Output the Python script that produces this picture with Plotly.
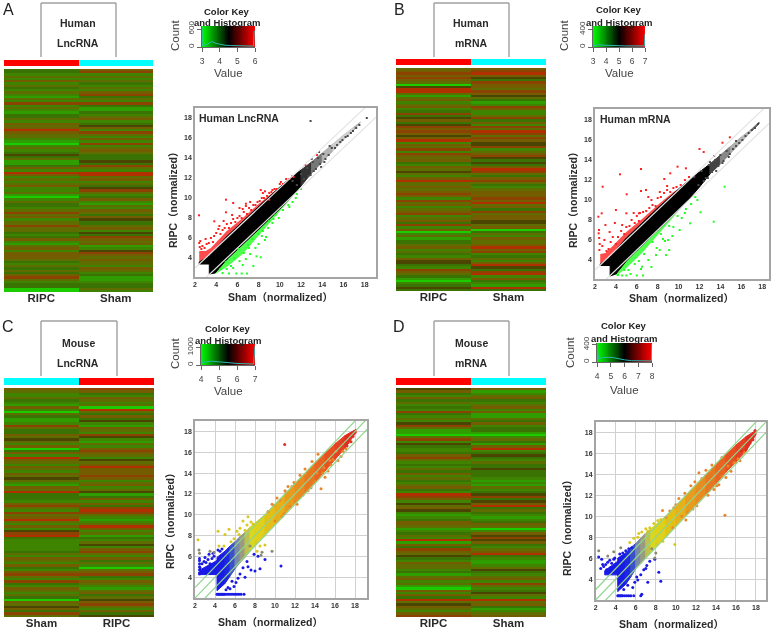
import numpy as np
import plotly.graph_objects as go

W, H = 773, 635
SANS = "Liberation Sans, Arial, Noto Sans CJK SC"
TXT = "#2a2a2a"

# ---------- heat map rows (level 0 = bright green ... 7 = red, 8 = near black)
LEVEL_COLOURS = ["#1ccc00", "#2f9c00", "#3f8400", "#3a7204", "#5e6c00",
                 "#745c00", "#8c4200", "#b03000", "#4a4500"]
A_RIPC = [3,3,2,4,2,5,2,4,3,2, 4,2,1,4,2,6,2,4,2,1, 3,3,4,2,5,4,5,7,5,4, 4,2,1,0,2,4,2,3,8,3,
          4,1,1,3,5,2,7,5,2,4, 2,4,5,2,2,4,1,0,2,4, 3,3,2,4,6,4,5,2,4,4, 6,4,4,3,2,3,5,2,1,4,
          5,2,5,5,5,4,3,2,4,3, 4,3,5,6,4,2,3,3,0,0]
A_SHAM = [5,6,2,4,2,4,3,2,4,2, 5,6,3,4,2,6,3,1,1,3, 2,4,5,2,3,8,5,2,6,4, 2,5,2,6,2,4,5,4,3,3,
          3,8,3,6,4,2,7,7,4,5, 2,4,3,8,6,4,2,3,5,2, 1,4,2,5,4,3,5,8,3,3, 4,5,2,8,3,6,5,4,5,1,
          2,8,6,5,4,5,4,4,2,5, 4,2,3,1,1,2,3,3,4,2]
B_RIPC = [4,5,6,5,6,5,4,0,8,7, 7,4,1,4,5,2,4,5,2,3, 6,3,8,5,3,8,6,5,6,5, 8,5,7,2,5,4,6,2,6,5,
          4,5,3,2,5,4,8,4,2,5, 7,4,4,5,4,5,6,5,2,6, 4,5,2,4,5,6,2,4,5,3, 6,2,5,0,2,4,1,3,3,4,
          5,2,4,3,2,5,8,8,3,2, 6,5,4,3,1,0,2,3,8,3]
B_SHAM = [5,6,7,5,8,3,6,5,5,4, 6,5,8,4,3,1,2,6,5,2, 2,4,6,3,5,2,6,4,7,6, 4,6,5,8,8,6,2,4,5,6,
          8,3,8,3,5,7,6,4,3,5, 6,4,3,2,4,5,5,5,6,5, 7,4,5,3,6,4,5,5,8,8, 4,5,0,3,4,2,5,4,4,5,
          7,5,6,2,3,4,2,5,7,8, 3,6,7,2,5,3,2,1,7,3]
C_SHAM = [5,4,2,2,4,3,2,1,5,2, 0,4,3,1,1,2,6,4,3,3, 5,4,8,4,2,5,0,3,5,2, 7,5,4,2,5,4,2,5,4,8,
          4,2,1,5,4,7,3,3,3,2, 5,6,4,2,6,4,5,7,4,2, 5,2,8,6,7,3,2,2,2,2, 2,3,4,2,5,4,2,5,3,2,
          5,6,4,2,6,3,2,5,4,2, 4,3,0,5,4,8,5,3,6,4]
C_RIPC = [6,5,3,2,5,4,2,4,0,7, 4,3,5,3,8,2,1,5,4,2, 6,8,2,1,4,2,5,6,5,4, 2,8,4,5,7,5,5,5,6,5,
          2,4,5,2,4,8,1,3,5,2, 5,3,6,7,6,4,2,1,2,4, 7,5,2,4,1,3,2,4,8,2, 5,6,4,2,5,3,4,2,0,4,
          5,6,3,2,5,4,2,1,4,5, 3,4,8,5,6,4,2,5,3,8]
D_RIPC = [8,5,3,2,5,3,4,2,3,2, 6,3,2,4,2,8,6,4,1,1, 0,4,6,2,8,3,2,2,3,5, 6,4,2,3,2,4,3,5,2,4,
          3,2,4,5,3,2,7,6,5,2, 8,4,5,8,2,1,2,3,5,5, 4,1,2,3,4,2,7,1,5,3, 6,5,4,8,3,2,5,4,4,2,
          3,1,4,5,2,4,1,0,5,2, 5,3,7,4,8,5,4,2,5,6]
D_SHAM = [5,1,2,4,5,3,2,4,5,2, 5,1,1,4,3,5,2,3,3,1, 0,2,4,3,1,5,7,2,3,8, 3,2,4,3,3,8,3,3,3,2,
          1,2,1,4,2,3,8,6,3,8, 5,7,3,4,3,2,1,2,3,5, 4,0,2,5,8,6,8,5,3,2, 4,5,7,3,2,1,1,2,4,8,
          3,2,4,5,2,6,4,2,3,8, 4,2,7,4,5,3,1,2,4,5]

# ---------- colour key histograms
A_KEY_X = [3,3.02,3.2,3.4,3.55,3.8,4,4.3,4.6,5,5.4,5.8,5.92,5.95,6]
A_KEY_Y = [650,60,60,130,180,120,90,60,50,40,30,30,30,520,520]
B_KEY_X = [3,3.05,3.2,3.5,4,4.5,5,5.5,6,6.5,6.95,7]
B_KEY_Y = [400,25,45,50,40,30,25,25,25,25,25,300]
C_KEY_X = [4,4.05,4.3,4.6,5,5.5,6,6.5,6.92,7]
C_KEY_Y = [1100,130,190,220,180,120,90,70,60,1100]
D_KEY_X = [4,4.1,4.4,4.8,5.2,5.6,6,6.5,7,7.5,7.95,8]
D_KEY_Y = [420,70,100,110,100,70,50,30,25,25,25,420]

# ---------- scatter: dense central cloud (edges) and its shades
A_BAND_X = [2.4,3.35,3.35,3.9,5,6,8,10,11,12,13,14,15,16,17,17.6]
A_BAND_LOW = [3.4,3.4,2.4,2.5,3.85,4.85,6.85,8.9,10.0,11.2,12.5,13.6,14.7,15.8,16.8,17.5]
A_BAND_UP = [3.6,4.2,4.2,4.9,6.15,7.15,9.15,11.1,12.0,12.8,13.6,14.5,15.4,16.3,17.1,17.6]
A_BAND_SHADE = ["#000000"]*9 + ["#333333","#777777","#b4b4b4","#cccccc","#cfcfcf","#b0b0b0"]

B_BAND_X = [2.5,3.45,3.45,4,5,6,8,10,11,12,13,14,15,16,17,17.7]
B_BAND_LOW = [3.45,3.45,2.4,2.6,3.9,4.95,6.95,9.0,10.1,11.3,12.6,13.6,14.7,15.8,16.9,17.6]
B_BAND_UP = [3.6,4.3,4.3,5.0,6.2,7.2,9.2,11.1,12.0,12.8,13.6,14.5,15.4,16.3,17.1,17.8]
B_BAND_SHADE = ["#000000"]*10 + ["#444444","#888888","#b0b0b0","#b8b8b8","#707070"]

C_BAND_X = [2.5,4.2,4.2,5,5.5,6,6.5,7,7.5,8,9,10,11,12,13,14,15,16,17,18.1]
C_BAND_LOW = [4.25,4.25,2.7,3.4,4.1,4.8,5.4,5.9,6.5,7.1,8.1,9.1,10.1,11.1,12.1,13.1,14.2,15.3,16.4,17.9]
C_BAND_UP = [4.7,5.6,5.9,6.5,7.0,7.4,7.9,8.3,8.8,9.2,10.0,11.0,12.0,13.0,14.0,15.0,15.9,16.8,17.6,18.2]
C_BAND_SHADE = ["#1a1ae6","#1a1ae6","#1a1ae6","#1f28e0","#3c50cc","#7a88a8","#9a9a80","#c0c050",
                "#d8d820","#e0d018","#e4c014","#e8b018","#e89c1c","#e88c20","#e87820","#e86420",
                "#e85020","#e44024","#e02c20"]

D_BAND_X = [2.9,4.2,4.2,5,5.5,6,6.5,7,7.5,8,9,10,11,12,13,14,15,16,17,18.0]
D_BAND_LOW = [4.4,4.4,2.8,3.5,4.2,5.0,5.5,6.0,6.6,7.1,8.1,9.1,10.1,11.1,12.1,13.1,14.2,15.2,16.2,17.8]
D_BAND_UP = [4.8,5.7,6.0,6.5,7.0,7.4,7.9,8.4,8.8,9.2,10.0,11.0,12.0,13.0,14.0,15.0,15.9,16.8,17.6,18.2]
D_BAND_SHADE = ["#1a1ae6","#1a1ae6","#1a1ae6","#1f28e0","#3c50cc","#7a88a8","#9a9a80","#c0c050",
                "#d8d820","#e0d018","#e4c014","#e8b018","#e89c1c","#e88c20","#e87820","#e86420",
                "#e85020","#e44024","#e02c20"]

# speckled fringes just outside the fold-change lines (A, B)
A_UPFRINGE_X = [2.4,3.0,3.5,5,6.5,8,9.5,10.5]
A_UPFRINGE_Y = [4.7,4.7,5.0,6.7,8.0,9.4,10.7,11.3]
A_LOFRINGE_X = [3.9,5,6.5,8,9.5,11]
A_LOFRINGE_Y = [2.4,3.1,4.4,6.2,8.1,9.9]
B_UPFRINGE_X = [2.5,3.0,3.6,5,6.5,8,9.5,10.8]
B_UPFRINGE_Y = [4.6,4.7,5.3,6.8,8.1,9.5,10.8,11.6]
B_LOFRINGE_X = [4,5,6.5,8,9.5,11]
B_LOFRINGE_Y = [2.4,3.2,4.7,6.5,8.3,10.0]

# ---------- scatter: individually read points
A_RED_X = [2.38,4.92,5.6,6.8,6.2,3.82,4.92,8.2,8.6,9.0,12.4,13.5,11.3,2.4,2.45,2.5,2.6,2.7,2.9,3.1,3.3,3.0,3.5,3.7,4.0,3.8,4.2,4.4,
           4.6,4.3,4.8,5.0,5.2,4.7,5.4,5.6,5.8,6.0,5.5,6.2,6.4,6.6,6.9,7.1,7.3,7.5,6.8,7.7,7.9,8.1,8.3,8.5,8.8,9.0,9.2,9.5,9.7,10.0,
           10.3,10.6,10.9,11.2,6.5,7.2,8.4,9.3,10.1]
A_RED_Y = [8.27,9.83,9.5,9.43,9.0,7.67,8.57,10.8,10.67,9.83,13.3,14.3,12.1,5.5,5.1,5.7,4.9,5.2,5.0,5.4,5.5,5.9,6.0,5.6,6.5,6.2,6.9,6.4,
           6.8,7.2,7.0,7.4,7.0,7.7,7.5,7.9,7.6,8.0,8.3,8.2,8.0,8.6,8.4,9.0,8.8,9.3,9.2,9.3,9.6,9.7,10.0,10.0,10.2,10.5,10.6,10.9,10.9,11.4,
           11.4,11.9,11.9,12.2,8.9,9.6,10.5,10.8,11.6]
A_GREEN_X = [7.8,8.2,6.8,7.2,5.0,5.4,5.7,6.2,6.6,6.1,7.0,7.4,7.7,8.0,8.4,8.7,9.0,9.3,9.6,9.9,10.3,10.8,11.2,11.6,12.0,4.6,5.2,5.9,6.4,6.9,7.5,8.3,8.9,9.4,
             4.4,4.9,5.6,6.5,7.1,10.9,11.5,8.6,8.0]
A_GREEN_Y = [4.17,4.07,3.9,4.4,2.9,3.2,4.0,3.7,4.5,4.9,5.3,5.9,5.0,6.4,6.7,6.1,7.7,7.5,8.3,8.0,8.8,9.3,9.6,10.4,10.9,2.5,2.45,2.45,2.45,2.45,3.2,6.2,7.0,7.9,
             2.9,3.6,3.0,3.3,5.0,9.1,10.0,5.8,5.4]
A_GREY_X = [11.2,11.6,12.0,12.3,12.6,12.9,13.1,13.4,13.6,13.8,14.1,14.3,14.6,14.9,15.2,15.4,15.7,15.9,16.2,16.4,16.7,16.9,17.2,17.5,12.7,13.2,13.7,14.2,13.0,14.7,18.2,12.9,13.9]
A_GREY_Y = [11.7,11.3,12.4,11.9,13.0,12.3,13.6,12.9,14.0,13.4,14.4,13.9,14.3,15.0,15.0,15.3,15.6,15.8,16.1,16.2,16.5,16.7,17.0,17.3,12.2,12.7,14.6,13.6,13.9,15.2,18.0,17.7,13.1]
B_GREY_X = [11.5,11.9,12.2,12.6,12.9,13.2,13.5,13.8,14.0,14.3,14.6,14.9,15.2,15.5,15.8,16.1,16.4,16.7,17.0,17.3,17.6,12.4,13.0,13.6,14.2,14.8,15.5,12.8,13.4]
B_GREY_Y = [12.3,11.5,12.9,12.2,13.5,12.8,14.0,13.4,14.5,13.9,14.9,14.6,15.1,15.4,15.7,16.0,16.4,16.7,17.0,17.2,17.6,11.9,13.8,12.9,13.7,14.3,15.9,12.2,14.4]

B_RED_X = [2.32,2.64,2.73,4.39,4.0,5.03,6.4,6.4,6.88,8.63,9.2,9.9,10.7,12.0,12.4,14.2,14.9,2.35,2.4,2.45,2.42,2.38,2.7,3.1,2.9,3.3,3.5,3.7,3.4,4.0,4.2,4.5,4.8,4.6,5.0,5.3,5.5,
           5.8,6.0,6.2,5.7,6.3,6.6,6.9,7.2,7.5,7.8,7.1,7.4,8.0,8.3,8.6,8.9,9.2,9.5,9.8,10.2,10.6,11.0,5.0,6.2,3.0,3.9,8.2,8.9]
B_RED_Y = [8.33,8.67,11.33,12.57,9.0,10.57,13.1,10.9,11.0,12.1,12.67,13.33,13.17,15.1,14.8,15.73,16.27,6.67,6.2,5.6,5.0,7.0,5.4,4.9,6.0,5.1,5.8,6.3,6.8,5.6,6.3,6.9,6.6,7.5,7.3,7.4,8.0,
           7.7,8.4,7.9,8.7,8.7,8.8,8.9,9.2,9.5,9.4,10.3,10.0,10.2,10.3,10.7,11.0,10.8,11.2,11.3,11.5,12.0,12.3,8.67,8.67,7.5,7.7,10.8,11.4]
B_GREEN_X = [14.4,13.36,12.1,11.8,9.0,8.8,7.84,6.5,10.1,11.1,4.6,5.0,5.4,5.8,6.2,6.0,6.7,7.1,7.5,7.9,8.3,8.7,9.1,9.5,9.9,10.3,10.7,11.2,11.6,5.2,6.6,7.4,8.2,9.4,4.2,4.8,6.4,9.1,8.5,10.6]
B_GREEN_Y = [11.33,7.83,8.77,10.0,6.0,4.5,4.5,3.33,7.0,7.67,2.45,2.45,2.6,3.6,3.9,2.45,4.6,4.0,5.8,5.2,6.6,5.9,7.4,7.3,8.4,8.2,9.1,9.6,10.3,3.0,2.45,3.3,5.0,6.4,2.5,3.0,3.1,5.0,6.1,8.7]

# shades for C/D individual points are grouped: blue, grey, yellow, orange, red
C_BLUE_X = [10.6,8.0,8.5,9.0,8.3,7.9,2.45,2.45,2.45,2.45,2.45,2.45,2.45,2.5,2.7,2.9,3.1,3.3,3.0,3.5,3.7,3.9,3.4,3.8,4.3,4.5,4.7,4.2,4.3,4.4,4.5,4.6,4.7,4.8,4.9,5.0,5.2,5.4,5.6,5.8,6.0,6.2,6.4,6.6,6.9,5.3,5.7,6.1,6.5,7.0,7.3,7.6,5.1,5.5,5.9,6.3,6.8,7.2]
C_BLUE_Y = [5.07,4.6,4.8,5.7,6.0,6.2,4.4,4.7,5.0,5.3,5.6,5.8,4.3,4.9,5.3,5.5,5.4,5.7,5.9,5.3,5.8,6.0,6.2,6.3,6.6,6.5,6.7,2.35,2.35,2.35,2.35,2.35,2.35,2.35,2.35,2.35,2.35,2.35,2.35,2.35,2.35,2.35,2.35,2.35,2.35,3.0,3.6,3.5,4.3,4.0,5.0,4.7,2.8,2.9,3.1,3.9,4.9,5.5]
C_GREY_X = [2.4,2.45,9.7,3.5,3.9,8.7,8.6,7.5]
C_GREY_Y = [6.6,6.3,6.5,6.5,6.4,6.4,6.1,7.0]
C_YELLOW_X = [5.4,4.3,2.3,6.8,5.0,4.4,4.9,5.6,6.2,6.5,7.2,7.6,8.2,8.5,8.9,9.0,7.3,5.9,6.4,7.0,7.8,8.1]
C_YELLOW_Y = [8.6,8.4,7.6,9.4,8.1,7.0,7.0,7.4,8.4,8.7,9.0,9.3,6.5,7.0,8.0,7.1,9.8,7.7,8.1,8.5,9.1,7.3]
C_ORANGE_X = [14.3,14.0,14.6,15.3,16.1,16.8,15.0,15.6,16.3,16.6,17.1,14.8,15.5,13.7,13.0,12.5,11.9,11.3,11.0,10.2,9.7,10.7,11.5,12.2,13.3,13.6,12.8,10.0,9.3,9.9,10.5,11.1,11.7,12.4,13.1,14.2,14.9,15.8,10.9,12.0,13.9]
C_ORANGE_Y = [15.8,13.2,12.5,14.2,16.1,16.1,13.6,14.8,15.2,15.6,16.3,14.0,15.2,15.1,14.4,13.8,13.1,12.7,12.3,11.6,11.0,9.8,10.8,11.0,12.3,12.6,11.9,9.4,10.3,10.9,11.4,12.1,12.7,13.2,13.9,14.0,14.5,15.3,10.1,11.3,13.1]
C_RED_X = [10.97,17.6,17.3,17.8,18.0,16.9,17.2,17.5]
C_RED_Y = [16.74,17.0,16.9,17.5,17.9,17.0,16.6,17.7]

D_BLUE_X = [8.3,8.5,7.2,6.6,7.9,2.3,2.6,2.8,3.0,3.2,3.4,3.6,3.8,2.5,2.7,3.1,3.5,3.9,4.2,4.3,4.4,4.5,4.6,4.7,4.9,5.1,5.3,5.5,5.8,6.5,4.4,4.7,5.0,5.3,5.6,5.9,6.2,6.5,6.8,7.1,4.8,5.2,5.7,6.1,7.0,7.4]
D_BLUE_Y = [4.65,3.8,3.7,2.55,5.9,6.1,5.9,5.2,5.4,5.6,5.8,5.5,5.9,5.0,5.4,4.9,5.1,6.0,2.4,2.4,2.4,2.4,2.4,2.4,2.4,2.4,2.4,2.4,2.4,2.4,6.4,6.5,6.7,6.9,7.0,3.7,3.9,4.4,4.9,5.3,3.0,3.4,3.2,4.2,5.0,5.7]
D_GREY_X = [2.3,3.2,3.8,4.5,7.9,8.0,7.6]
D_GREY_Y = [6.7,6.2,6.6,7.0,6.0,6.5,6.9]
D_YELLOW_X = [6.3,9.9,5.4,5.8,6.6,7.0,7.4,7.8,8.2,8.7,9.1,8.1,6.2,7.2,8.5,9.4]
D_YELLOW_Y = [8.35,7.3,7.5,7.9,8.5,8.8,8.9,9.3,9.6,7.6,8.2,7.4,8.0,8.6,9.7,8.7]
D_ORANGE_X = [14.9,8.67,12.3,11.0,12.7,13.8,16.2,16.8,14.3,15.0,15.5,15.8,16.4,10.3,10.9,11.5,11.9,13.0,13.6,14.6,9.4,10.0,9.7,12.1,13.2,14.1,9.0,9.8,10.6,11.2,12.6,13.4,15.2,16.0,11.7,14.6]
D_ORANGE_Y = [10.1,10.55,14.16,9.65,12.4,12.55,15.5,16.1,13.0,13.7,14.3,15.1,15.3,11.7,12.2,12.9,13.3,14.4,14.9,15.6,10.5,11.1,8.9,11.0,12.0,12.9,9.9,10.8,10.0,10.4,13.6,14.3,14.8,15.1,10.7,13.8]
D_RED_X = [17.0,17.4,17.7,16.6,17.2,17.9]
D_RED_Y = [16.4,17.0,17.3,16.2,16.8,18.2]

COLUMN_COLOURS = {"RIPC": "#ff0000", "Sham": "#00ffff"}
KEY_SCALE = [[0, "#00ff00"], [0.5, "#000000"], [1, "#ff0000"]]

PANELS = [
 dict(letter="A", lx=8, ly=9.5, box=(41,116,3,57), bar=(4,153,60,66), hm=(4,153,69,292), names=("RIPC","Sham"), cols=(A_RIPC,A_SHAM),
      t1="Human", t2="LncRNA", tx=78, ty1=23, ty2=43,
      key=(202,255,26,47), kt=(3,6), kticks=[3,4,5,6], kymax=700, kyticks=[0,600], khx=A_KEY_X, khy=A_KEY_Y, ktitlex=227, ktitley=(11,22), countx=175, county=36, valuey=73,
      sc=(195,376,108,277), xr=(2,19.07), yr=(2.1,19), title="Human LncRNA", tix=197, tiy=118, xt=(280,297), yt=(173,197),
      band=(A_BAND_X,A_BAND_LOW,A_BAND_UP,A_BAND_SHADE), up=(A_UPFRINGE_X,A_UPFRINGE_Y), lo=(A_LOFRINGE_X,A_LOFRINGE_Y),
      pts=[(A_GREY_X,A_GREY_Y,"#4a4a4a"),(A_RED_X,A_RED_Y,"#ff2020"),(A_GREEN_X,A_GREEN_Y,"#20ff20")], colored=False),
 dict(letter="B", lx=399, ly=9.5, box=(434,509,3,57), bar=(396,546,59,65), hm=(396,546,68,291), names=("RIPC","Sham"), cols=(B_RIPC,B_SHAM),
      t1="Human", t2="mRNA", tx=471, ty1=23, ty2=43,
      key=(593,645,26,47), kt=(3,7), kticks=[3,4,5,6,7], kymax=480, kyticks=[0,400], khx=B_KEY_X, khy=B_KEY_Y, ktitlex=619, ktitley=(10,22), countx=564, county=36, valuey=73,
      sc=(595,769,109,279), xr=(2,18.65), yr=(2.1,19.1), title="Human mRNA", tix=598, tiy=119, xt=(681,298), yt=(573,197),
      band=(B_BAND_X,B_BAND_LOW,B_BAND_UP,B_BAND_SHADE), up=(B_UPFRINGE_X,B_UPFRINGE_Y), lo=(B_LOFRINGE_X,B_LOFRINGE_Y),
      pts=[(B_GREY_X,B_GREY_Y,"#4a4a4a"),(B_RED_X,B_RED_Y,"#ff2020"),(B_GREEN_X,B_GREEN_Y,"#20ff20")], colored=False),
 dict(letter="C", lx=8, ly=327, box=(41,117,321,376), bar=(4,154,378,385), hm=(4,154,388,617), names=("Sham","RIPC"), cols=(C_SHAM,C_RIPC),
      t1="Mouse", t2="LncRNA", tx=78, ty1=343, ty2=363,
      key=(201,255,344,365), kt=(4,7), kticks=[4,5,6,7], kymax=1200, kyticks=[0,1000], khx=C_KEY_X, khy=C_KEY_Y, ktitlex=228, ktitley=(328,340), countx=175, county=354, valuey=391,
      sc=(195,367,421,598), xr=(2,19.2), yr=(2,19), title=None, xt=(270,622), yt=(170,518),
      band=(C_BAND_X,C_BAND_LOW,C_BAND_UP,C_BAND_SHADE), up=None, lo=None,
      pts=[(C_BLUE_X,C_BLUE_Y,"#1a1ae6"),(C_GREY_X,C_GREY_Y,"#8a8a70"),(C_YELLOW_X,C_YELLOW_Y,"#d8c820"),(C_ORANGE_X,C_ORANGE_Y,"#ec8428"),(C_RED_X,C_RED_Y,"#e03020")], colored=True),
 dict(letter="D", lx=399, ly=327, box=(434,509,321,376), bar=(396,546,378,385), hm=(396,546,388,617), names=("RIPC","Sham"), cols=(D_RIPC,D_SHAM),
      t1="Mouse", t2="mRNA", tx=471, ty1=343, ty2=363,
      key=(597,652,343,362), kt=(4,8), kticks=[4,5,6,7,8], kymax=440, kyticks=[0,400], khx=D_KEY_X, khy=D_KEY_Y, ktitlex=624, ktitley=(325,338), countx=570, county=353, valuey=390,
      sc=(595.7,766,422,600), xr=(2,19), yr=(2,19), title=None, xt=(671,624), yt=(567,525),
      band=(D_BAND_X,D_BAND_LOW,D_BAND_UP,D_BAND_SHADE), up=None, lo=None,
      pts=[(D_BLUE_X,D_BLUE_Y,"#1a1ae6"),(D_GREY_X,D_GREY_Y,"#8a8a70"),(D_YELLOW_X,D_YELLOW_Y,"#d8c820"),(D_ORANGE_X,D_ORANGE_Y,"#ec8428"),(D_RED_X,D_RED_Y,"#e03020")], colored=True),
]

fig = go.Figure()
layout = dict(width=W, height=H, margin=dict(l=0, r=0, t=0, b=0, autoexpand=False), autosize=False, showlegend=False,
              paper_bgcolor="white", plot_bgcolor="white", font=dict(family=SANS, color=TXT))
annots, shapes = [], []


def px(x):
    return x / W


def py(y):
    return 1 - y / H


def note(text, x, y, size, bold=True, color=TXT, angle=0, xanchor="center"):
    annots.append(dict(text=text, x=px(x), y=py(y), xref="paper", yref="paper", showarrow=False,
                       xanchor=xanchor, yanchor="middle", textangle=angle,
                       font=dict(family=SANS, size=size, color=color, weight=700 if bold else 400)))


axis_no = 0


def new_axes(box):
    global axis_no
    axis_no += 1
    n = "" if axis_no == 1 else str(axis_no)
    x0, x1, y0, y1 = box
    return (f"x{n}", f"y{n}", f"xaxis{n}", f"yaxis{n}",
            [px(x0), px(x1)], [py(y1), py(y0)])


for p in PANELS:
    # --- panel letter, dendrogram box and its caption
    note(p["letter"], p["lx"], p["ly"], 16, bold=False, color="#222222")
    x0, x1, y0, y1 = p["box"]
    for seg in ((x0, y1, x0, y0), (x0, y0, x1, y0), (x1, y0, x1, y1)):
        shapes.append(dict(type="line", xref="paper", yref="paper", x0=px(seg[0]), y0=py(seg[1]),
                           x1=px(seg[2]), y1=py(seg[3]), line=dict(color="#a0a0a0", width=1.4)))
    note(p["t1"], p["tx"], p["ty1"], 10.5)
    note(p["t2"], p["tx"], p["ty2"], 10.5)

    # --- heat map with its column colour bar
    xa, ya, xk, yk, xd, yd = new_axes(p["hm"])
    left, right = p["cols"]
    rows = list(range(len(left)))
    z = [[left[i], right[i]] for i in rows]
    stops = []
    n = len(LEVEL_COLOURS)
    for i, c in enumerate(LEVEL_COLOURS):
        stops += [[i / n, c], [(i + 1) / n, c]]
    fig.add_trace(go.Heatmap(z=z, x=list(p["names"]), y=rows, xaxis=xa, yaxis=ya, colorscale=stops,
                             zmin=-0.5, zmax=n - 0.5, showscale=False, hoverinfo="skip"))
    layout[xk] = dict(domain=xd, anchor=ya, ticks="", showline=False, showgrid=False, zeroline=False, ticklabelstandoff=-3,
                      tickfont=dict(family=SANS, size=11.5, color=TXT, weight=700))
    layout[yk] = dict(domain=yd, anchor=xa, autorange="reversed", visible=False)

    bxa, bya, bxk, byk, bxd, byd = new_axes(p["bar"])
    fig.add_trace(go.Heatmap(z=[[0, 1]], x=list(p["names"]), y=[0], xaxis=bxa, yaxis=bya,
                             colorscale=[[0, COLUMN_COLOURS[p["names"][0]]], [0.5, COLUMN_COLOURS[p["names"][0]]],
                                         [0.5, COLUMN_COLOURS[p["names"][1]]], [1, COLUMN_COLOURS[p["names"][1]]]],
                             zmin=0, zmax=1, showscale=False, hoverinfo="skip"))
    layout[bxk] = dict(domain=bxd, anchor=bya, visible=False)
    layout[byk] = dict(domain=byd, anchor=bxa, visible=False)

    # --- colour key with histogram
    kxa, kya, kxk, kyk, kxd, kyd = new_axes(p["key"])
    t0, t1 = p["kt"]
    steps = [t0 + (t1 - t0) * i / 60 for i in range(61)]
    fig.add_trace(go.Heatmap(z=[steps, steps], x=steps, y=[0, p["kymax"]], xaxis=kxa, yaxis=kya,
                             colorscale=KEY_SCALE, showscale=False, hoverinfo="skip"))
    fig.add_trace(go.Scatter(x=p["khx"], y=p["khy"], xaxis=kxa, yaxis=kya, mode="lines",
                             line=dict(color="#2ab8b0", width=1), hoverinfo="skip"))
    layout[kxk] = dict(domain=kxd, anchor=kya, range=list(p["kt"]), tickvals=p["kticks"], ticks="outside", ticklen=4,
                       tickcolor="#666666", showline=True, linecolor="#666666", linewidth=1, showgrid=False, zeroline=False,
                       tickfont=dict(family=SANS, size=8.5, color="#444444"), ticklabelstandoff=2)
    layout[kyk] = dict(domain=kyd, anchor=kxa, range=[0, p["kymax"]], tickvals=p["kyticks"], ticks="outside", ticklen=4,
                       tickcolor="#666666", showline=True, linecolor="#666666", linewidth=1, showgrid=False, zeroline=False,
                       tickangle=-90, tickfont=dict(family=SANS, size=8, color="#444444"))
    note("Color Key", p["ktitlex"], p["ktitley"][0], 9.5, color="#222222")
    note("and Histogram", p["ktitlex"], p["ktitley"][1], 9.5, color="#222222")
    note("Count", p["countx"], p["county"], 11.5, bold=False, color="#444444", angle=-90)
    note("Value", (p["key"][0] + p["key"][1]) / 2, p["valuey"], 11.5, bold=False, color="#444444")

    # --- scatter plot
    sxa, sya, sxk, syk, sxd, syd = new_axes(p["sc"])
    rng = p["xr"]
    lines = (-1, 1) if not p["colored"] else (-1, 0, 1)
    bx, bl, bu, shade = p["band"]
    if p["up"]:
        ux, uy = p["up"]
        lx_, ly_ = p["lo"]
        ub = np.interp(ux, bx, bu).tolist()
        lb = np.interp(lx_, bx, bl).tolist()
        fig.add_trace(go.Scatter(x=ux + ux[::-1], y=uy + ub[::-1], xaxis=sxa, yaxis=sya, mode="lines", fill="toself",
                                 fillcolor="rgba(255,30,30,0.8)", line=dict(width=0), hoverinfo="skip"))
        fig.add_trace(go.Scatter(x=lx_ + lx_[::-1], y=ly_ + lb[::-1], xaxis=sxa, yaxis=sya, mode="lines", fill="toself",
                                 fillcolor="rgba(30,255,30,0.8)", line=dict(width=0), hoverinfo="skip"))
    for i, colour in enumerate(shade):
        if bx[i] == bx[i + 1]:
            continue
        fig.add_trace(go.Scatter(x=[bx[i], bx[i + 1], bx[i + 1], bx[i], bx[i]],
                                 y=[bl[i], bl[i + 1], bu[i + 1], bu[i], bl[i]],
                                 xaxis=sxa, yaxis=sya, mode="lines", fill="toself", fillcolor=colour,
                                 line=dict(width=1, color=colour), hoverinfo="skip"))
    for xs, ys, colour in p["pts"]:
        fig.add_trace(go.Scatter(x=xs, y=ys, xaxis=sxa, yaxis=sya, mode="markers", hoverinfo="skip",
                                 marker=dict(symbol="square" if not p["colored"] else "circle",
                                             size=2 if not p["colored"] else 3, color=colour, line=dict(width=0))))
    for f in lines:
        colour = "#8ed68e" if p["colored"] else "#e4e4e4"
        fig.add_trace(go.Scatter(x=[rng[0], rng[1]], y=[rng[0] + f, rng[1] + f], xaxis=sxa, yaxis=sya, mode="lines",
                                 line=dict(color=colour, width=1.2), hoverinfo="skip"))
    grid = p["colored"]
    axis_style = dict(dtick=2, showline=True, mirror=True, linecolor="#a4a4a4", linewidth=1.5, zeroline=False,
                      showgrid=grid, gridcolor="#d0d0d0", gridwidth=1.4, ticks="",
                      tickfont=dict(family=SANS, size=7, color="#333333", weight=700))
    layout[sxk] = dict(domain=sxd, anchor=sya, range=list(p["xr"]), tickvals=[2, 4, 6, 8, 10, 12, 14, 16, 18], **axis_style)
    layout[syk] = dict(domain=syd, anchor=sxa, range=list(p["yr"]), tickvals=[4, 6, 8, 10, 12, 14, 16, 18], **axis_style)
    if p["title"]:
        note(p["title"], p["tix"], p["tiy"], 10.5, xanchor="left")
    note("Sham（normalized）", p["xt"][0], p["xt"][1], 10.5)
    note("RIPC（normalized）", p["yt"][0], p["yt"][1], 10.5, angle=-90)

layout["annotations"] = annots
layout["shapes"] = shapes
fig.update_layout(**layout)
fig.write_html("out.html", config=dict(displayModeBar=False),
               post_script="document.body.style.margin='0';document.querySelector('.plotly-graph-div').style.filter='blur(0.45px)';")
